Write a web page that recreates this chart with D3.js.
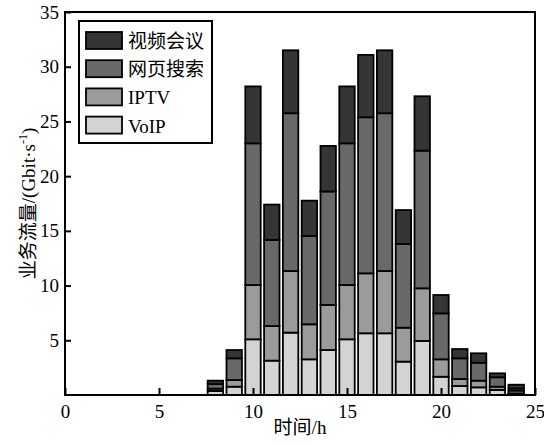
<!DOCTYPE html>
<html>
<head>
<meta charset="utf-8">
<script src="https://cdn.jsdelivr.net/npm/d3@7"></script>
<style>
  body { margin: 0; background: #fff; }
  svg text { font-family: "Liberation Serif", "Noto Sans CJK SC", serif; fill: #000; }
</style>
</head>
<body>
<svg id="chart" width="544" height="445"></svg>
<script>
// Data (Gbit/s per hour)
const hours = [8, 9, 10, 11, 12, 13, 14, 15, 16, 17, 18, 19, 20, 21, 22, 23, 24];
const voip  = [0.37, 0.76, 5.09, 3.14, 5.70, 3.26, 4.11, 5.09, 5.64, 5.64, 3.05, 4.94, 1.67, 0.82, 0.70, 0.46, 0.15];
const iptv  = [0.21, 0.61, 4.96, 3.16, 5.63, 3.20, 4.12, 4.96, 5.48, 5.69, 3.10, 4.81, 1.59, 0.64, 0.61, 0.30, 0.25];
const web   = [0.42, 1.98, 12.95, 7.87, 14.42, 8.07, 10.37, 12.95, 14.26, 14.42, 7.65, 12.58, 4.20, 1.89, 1.64, 0.86, 0.20];
const video = [0.31, 0.76, 5.20, 3.23, 5.75, 3.23, 4.16, 5.20, 5.70, 5.75, 3.10, 4.97, 1.68, 0.85, 0.86, 0.36, 0.34];

const seriesKeys = ["VoIP", "IPTV", "网页搜索", "视频会议"];
const seriesColors = ["#d3d3d3", "#9b9b9b", "#696969", "#353535"];
const legendOrder = ["视频会议", "网页搜索", "IPTV", "VoIP"];
const xTicks = [0, 5, 10, 15, 20, 25];
const yTicks = [5, 10, 15, 20, 25, 30, 35];

const rows = hours.map((h, i) => ({
  hour: h, "VoIP": voip[i], "IPTV": iptv[i], "网页搜索": web[i], "视频会议": video[i]
}));

const svg = d3.select("#chart");
const margin = { top: 12, right: 9, bottom: 50, left: 65 };
const width = 544 - margin.left - margin.right;
const height = 445 - margin.top - margin.bottom;

const g = svg.append("g")
  .attr("transform", "translate(" + margin.left + "," + margin.top + ")");

const x = d3.scaleLinear().domain([0, 25]).range([0, width]);
const y = d3.scaleLinear().domain([0, 35]).range([height, 0]);
const color = d3.scaleOrdinal().domain(seriesKeys).range(seriesColors);

const stacked = d3.stack().keys(seriesKeys)(rows);
const barW = x(0.82) - x(0);

// bars
g.selectAll(".layer")
  .data(stacked)
  .enter().append("g")
  .attr("class", "layer")
  .attr("fill", d => color(d.key))
  .selectAll("rect")
  .data(d => d)
  .enter().append("rect")
  .attr("x", d => x(d.data.hour) - barW / 2)
  .attr("y", d => y(d[1]))
  .attr("width", barW)
  .attr("height", d => y(d[0]) - y(d[1]))
  .attr("stroke", "#000")
  .attr("stroke-width", 1.8);

// axes with inward ticks
const xAxis = g.append("g")
  .attr("transform", "translate(0," + height + ")")
  .call(d3.axisBottom(x).tickValues(xTicks).tickSize(-7).tickPadding(10).tickFormat(d3.format("d")));
xAxis.select(".domain").remove();
xAxis.selectAll("line").attr("stroke", "#000").attr("stroke-width", 2);
xAxis.selectAll("text").attr("font-size", 19).attr("dy", "0.71em");

const yAxis = g.append("g")
  .call(d3.axisLeft(y).tickValues(yTicks).tickSize(-6).tickPadding(6).tickFormat(d3.format("d")));
yAxis.select(".domain").remove();
yAxis.selectAll("line").attr("stroke", "#000").attr("stroke-width", 2);
yAxis.selectAll("text").attr("font-size", 19);

// frame
g.append("rect")
  .attr("x", 0).attr("y", 0)
  .attr("width", width).attr("height", height)
  .attr("fill", "none")
  .attr("stroke", "#000")
  .attr("stroke-width", 2);

// axis titles
svg.append("text")
  .attr("x", margin.left + width / 2)
  .attr("y", 434)
  .attr("text-anchor", "middle")
  .attr("font-size", 19)
  .text("时间/h");

const yTitle = svg.append("text")
  .attr("transform", "translate(35," + (margin.top + height / 2) + ") rotate(-90)")
  .attr("text-anchor", "middle")
  .attr("font-size", 19);
yTitle.append("tspan").text("业务流量/(Gbit·s");
yTitle.append("tspan").attr("font-size", 12).attr("dy", -8).text("-1");
yTitle.append("tspan").attr("dy", 8).text(")");

// legend
const legend = svg.append("g").attr("transform", "translate(79,21)");
legend.append("rect")
  .attr("width", 133).attr("height", 122)
  .attr("fill", "#fff")
  .attr("stroke", "#000")
  .attr("stroke-width", 2);

const item = legend.selectAll(".item")
  .data(legendOrder)
  .enter().append("g")
  .attr("class", "item")
  .attr("transform", (d, i) => "translate(7," + (11 + i * 28.2) + ")");

item.append("rect")
  .attr("width", 36).attr("height", 17)
  .attr("fill", d => color(d))
  .attr("stroke", "#000")
  .attr("stroke-width", 1.8);

item.append("text")
  .attr("x", 42)
  .attr("y", 16)
  .attr("font-size", 19)
  .text(d => d);
</script>
</body>
</html>
